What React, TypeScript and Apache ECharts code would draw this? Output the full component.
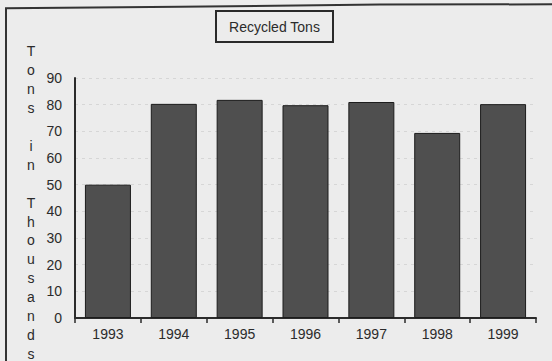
import React, { useEffect, useRef } from "react";
import * as echarts from "echarts";

const years = ["1993", "1994", "1995", "1996", "1997", "1998", "1999"];
const recycledTons = [50, 80.3, 81.8, 79.8, 81, 69.4, 80.2];
const yTicks = { min: 0, max: 90, interval: 10 };
const chartTitle = "Recycled Tons";
const yAxisTitle = "Tons in Thousands";

const FONT = "'Liberation Sans', Arial, Helvetica, sans-serif";
const INK = "#2b2b2b";

// stack the axis title one letter per line; word gaps become empty lines
const stackedTitle = yAxisTitle.split("").map((ch) => (ch === " " ? "" : ch)).join("\n");

export default function App() {
  const ref = useRef<HTMLDivElement>(null);

  useEffect(() => {
    if (!ref.current) return;
    const chart = echarts.init(ref.current, undefined, { renderer: "svg" });
    chart.setOption({
      animation: false,
      backgroundColor: "#ececec",
      grid: { left: 75, top: 78, width: 461, height: 240, containLabel: false },
      xAxis: {
        type: "category",
        data: years,
        axisLine: { lineStyle: { color: INK, width: 2 } },
        axisTick: { show: true, length: 5, lineStyle: { color: INK, width: 1.5 } },
        axisLabel: { color: INK, fontFamily: FONT, fontSize: 14, margin: 9 },
      },
      yAxis: {
        type: "value",
        min: yTicks.min,
        max: yTicks.max,
        interval: yTicks.interval,
        axisLine: { show: true, lineStyle: { color: INK, width: 2 } },
        axisTick: { show: false },
        axisLabel: { color: INK, fontFamily: FONT, fontSize: 14, margin: 13 },
        splitLine: { show: true, lineStyle: { color: "#d6d6d6", type: [3, 4], width: 1 } },
      },
      series: [
        {
          type: "bar",
          data: recycledTons,
          barWidth: 46,
          itemStyle: { color: "#4f4f4f", borderColor: "#1c1c1c", borderWidth: 1 },
        },
      ],
      graphic: [
        {
          type: "polyline",
          shape: { points: [[6, 361], [6, 8.3], [180, 6.7], [380, 4.6], [552, 4.3]] },
          style: { stroke: "#333", lineWidth: 2, fill: "none" },
        },
        {
          type: "rect",
          shape: { x: 216, y: 11, width: 117, height: 31 },
          style: { stroke: "#2a2a2a", lineWidth: 2, fill: "none" },
        },
        {
          type: "text",
          x: 274.5,
          y: 27,
          style: {
            text: chartTitle,
            font: `14px ${FONT}`,
            fill: INK,
            align: "center",
            verticalAlign: "middle",
          },
        },
        {
          type: "text",
          x: 31,
          y: 42,
          style: {
            text: stackedTitle,
            font: `14px ${FONT}`,
            fill: INK,
            align: "center",
            verticalAlign: "top",
            lineHeight: 18.9,
          },
        },
      ],
    });
    return () => chart.dispose();
  }, []);

  return (
    <div
      ref={ref}
      style={{ position: "fixed", left: 0, top: 0, width: 552, height: 361 }}
    />
  );
}
